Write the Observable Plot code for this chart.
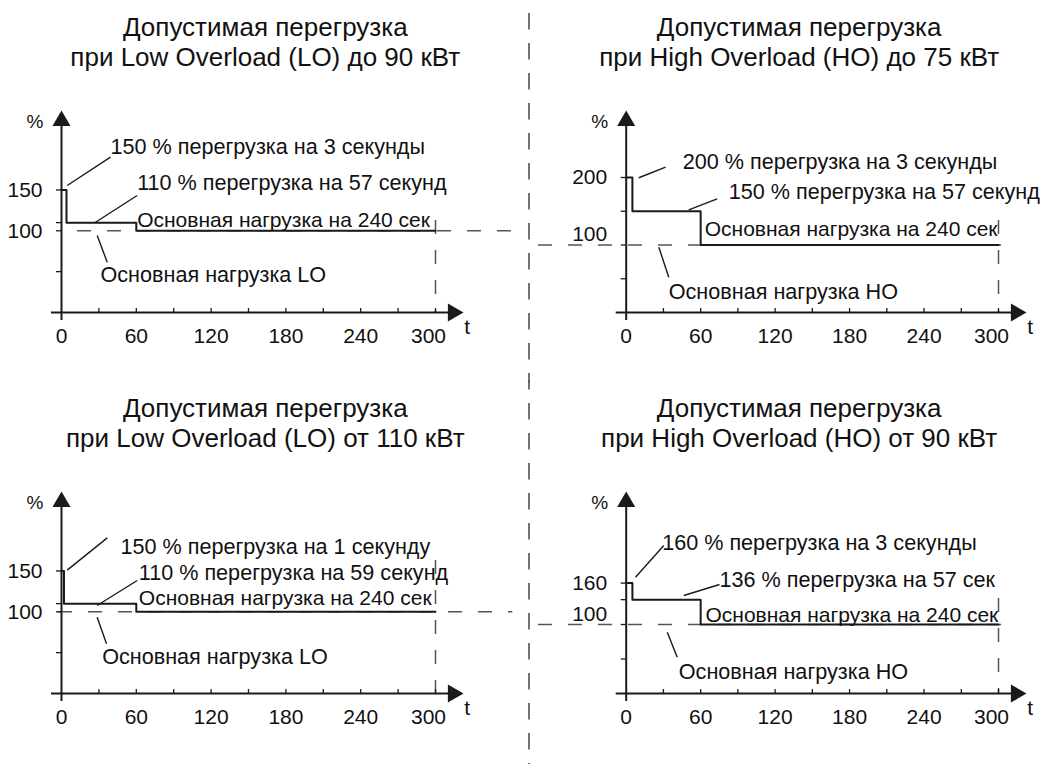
<!DOCTYPE html>
<html><head><meta charset="utf-8">
<script src="https://cdn.jsdelivr.net/npm/d3@7"></script>
<script src="https://cdn.jsdelivr.net/npm/@observablehq/plot@0.6"></script>
<style>
body{margin:0;background:#fff;}
#chart{position:relative;width:1047px;height:764px;font-family:"Liberation Sans",Arial,sans-serif;}
.panel{position:absolute;}
</style></head><body><div id="chart"></div>
<script>
// ---------- DATA ----------
const titles = [
  "Допустимая перегрузка\nпри Low Overload (LO) до 90 кВт",
  "Допустимая перегрузка\nпри High Overload (HO) до 75 кВт",
  "Допустимая перегрузка\nпри Low Overload (LO) от 110 кВт",
  "Допустимая перегрузка\nпри High Overload (HO) от 90 кВт"
];
const xTickLabels = [0, 60, 120, 180, 240, 300];
const xMinorTicks = [30, 60, 90, 120, 150, 180, 210, 240, 270, 300];

const stepTimesTL = [0, 4, 60, 300],  stepValuesTL = [150, 110, 100, 100];
const stepTimesTR = [0, 5, 60, 300],  stepValuesTR = [200, 150, 100, 100];
const stepTimesBL = [0, 2, 60, 300],  stepValuesBL = [150, 110, 100, 100];
const stepTimesBR = [0, 5, 60, 300],  stepValuesBR = [160, 136, 100, 100];

const yTicksTL = [50, 100, 110, 150], yLabelsTL = [150];
const yTicksTR = [50, 100, 150, 200], yLabelsTR = [200];
const yTicksBL = [50, 100, 110, 150], yLabelsBL = [150];
const yTicksBR = [50, 100, 136, 160], yLabelsBR = [160];
const baseLoad = 100;

const notesTL = ["150 % перегрузка на 3 секунды", "110 % перегрузка на 57 секунд", "Основная нагрузка на 240 сек", "Основная нагрузка LO"];
const notesTR = ["200 % перегрузка на 3 секунды", "150 % перегрузка на 57 секунд", "Основная нагрузка на 240 сек", "Основная нагрузка HO"];
const notesBL = ["150 % перегрузка на 1 секунду", "110 % перегрузка на 59 секунд", "Основная нагрузка на 240 сек", "Основная нагрузка LO"];
const notesBR = ["160 % перегрузка на 3 секунды", "136 % перегрузка на 57 сек", "Основная нагрузка на 240 сек", "Основная нагрузка HO"];

// note anchors [t, value]
const notePosTL = [[39.3, 203], [60.7, 158], [60.7, 112.6], [31.3, 45.3]];
const notePosTR = [[45.6, 222.7], [82.7, 178.2], [63.3, 124], [34.3, 30.1]];
const notePosBL = [[47.3, 179], [62, 147.2], [62, 117.1], [32.6, 44.4]];
const notePosBR = [[29, 217.8], [75.2, 163.8], [63.9, 113], [42.4, 30.9]];

// leader lines [t1, v1, t2, v2]
const leadersTL = [[4.6, 155.4, 39.3, 190.1], [27.3, 110.5, 60.7, 143.2], [28.6, 94.2, 36.7, 61.6]];
const leadersTR = [[10.2, 199.6, 31.7, 215.3], [50.4, 152.1, 73.3, 168.4], [26.3, 96.7, 34.3, 52.3]];
const leadersBL = [[4.6, 151, 36.7, 190.5], [28.6, 107.7, 60.7, 138.3], [28.6, 93.4, 36.1, 60.8]];
const leadersBR = [[7.5, 168.6, 30.3, 214.5], [46.4, 142, 75.2, 158], [33.1, 88.9, 41.1, 52.6]];

// dashed reference lines: base-load extent [t1, t2], top of 300 s marker (value)
const baseDashTL = [12.8, 364], endDashTopTL = 112.6;
const baseDashTR = [-70.7, 302.5], endDashTopTR = 136.3;
const baseDashBL = [-2.4, 362], endDashTopBL = 162.8;
const baseDashBR = [-70.7, 302.5], endDashTopBR = 137.7;

// ---------- LAYOUT / STYLE ----------
const INK = "#1a1a1a", DASH = "#555";
const FONT = "'Liberation Sans', Arial, sans-serif";

const panels = [
  {title: titles[0], times: stepTimesTL, values: stepValuesTL, yTicks: yTicksTL, yLabels: yLabelsTL,
   notes: notesTL, notePos: notePosTL, leaders: leadersTL, baseDash: baseDashTL, endTop: endDashTopTL,
   left: 0, top: 0, width: 520, height: 381, x0: 61, x300: 435, yRef: 150, yRefPx: 189.45,
   titleDx: 8, baseLabelDy: 0, divider: false},
  {title: titles[1], times: stepTimesTR, values: stepValuesTR, yTicks: yTicksTR, yLabels: yLabelsTR,
   notes: notesTR, notePos: notePosTR, leaders: leadersTR, baseDash: baseDashTR, endTop: endDashTopTR,
   left: 520, top: 0, width: 527, height: 381, x0: 105.7, x300: 478, yRef: 200, yRefPx: 177,
   titleDx: -22, baseLabelDy: -11, divider: true, dashOffset: 16.7},
  {title: titles[2], times: stepTimesBL, values: stepValuesBL, yTicks: yTicksBL, yLabels: yLabelsBL,
   notes: notesBL, notePos: notePosBL, leaders: leadersBL, baseDash: baseDashBL, endTop: endDashTopBL,
   left: 0, top: 381, width: 520, height: 383, x0: 61, x300: 435, yRef: 150, yRefPx: 189.45,
   titleDx: 8, baseLabelDy: 0, divider: false},
  {title: titles[3], times: stepTimesBR, values: stepValuesBR, yTicks: yTicksBR, yLabels: yLabelsBR,
   notes: notesBR, notePos: notePosBR, leaders: leadersBR, baseDash: baseDashBR, endTop: endDashTopBR,
   left: 520, top: 381, width: 527, height: 383, x0: 105.7, x300: 478, yRef: 160, yRefPx: 201.6,
   titleDx: -22, baseLabelDy: -10, divider: true, dashOffset: 7.7}
];

const AXIS_Y = 312;        // x-axis position inside each svg
const ARROW_C = 120.4;     // centre of y-axis arrow head
const ARROW_R = 6.7;

function drawPanel(p) {
  const marginLeft = p.x0;
  const marginRight = p.width - (p.x300 + 17.6);
  const marginTop = ARROW_C;
  const marginBottom = p.height - AXIS_Y;
  const frameW = p.width - marginLeft - marginRight;
  const frameH = AXIS_Y - marginTop;
  const steps = p.times.map((t, i) => ({t, v: p.values[i]}));
  const notes = p.notes.map((label, i) => ({label, i, t: p.notePos[i][0], v: p.notePos[i][1]}));
  const leaders = p.leaders.map(([t1, v1, t2, v2]) => ({t1, v1, t2, v2}));
  const dashStyle = {stroke: DASH, strokeWidth: 1.5, strokeDasharray: "14,16"};

  const marks = [
    Plot.text([p.title], {text: d => d, frameAnchor: "top", dx: p.titleDx, dy: 15 - marginTop,
      lineAnchor: "top", fontSize: 26, lineHeight: 1.13, fill: "#111"}),
  ];
  if (p.divider) {
    marks.push(Plot.frame({anchor: "left", insetLeft: -(marginLeft - 8.5), insetTop: -marginTop,
      insetBottom: -marginBottom, stroke: "#444", strokeWidth: 1.5, strokeDasharray: "15,15",
      strokeDashoffset: p.dashOffset}));
  }
  marks.push(
    Plot.ruleY([baseLoad], {x1: p.baseDash[0], x2: p.baseDash[1], ...dashStyle}),
    Plot.ruleX([300], {y1: p.endTop, y2: 0, ...dashStyle}),
    Plot.ruleX([0], {insetBottom: -8, stroke: INK, strokeWidth: 2}),
    Plot.ruleY([0], {insetLeft: -10, stroke: INK, strokeWidth: 2}),
    Plot.ruleX(xMinorTicks, {insetTop: frameH - 4, stroke: INK, strokeWidth: 1.3}),
    Plot.ruleY(p.yTicks, {insetLeft: -5, insetRight: frameW, stroke: INK, strokeWidth: 1.3}),
    Plot.dot([0], {x: 0, frameAnchor: "top", symbol: "triangle", r: ARROW_R, fill: INK, stroke: "none"}),
    Plot.dot([0], {y: 0, frameAnchor: "right", symbol: "triangle", rotate: 90, r: ARROW_R, fill: INK, stroke: "none"}),
    Plot.line(steps, {x: "t", y: "v", curve: "step-after", stroke: INK, strokeWidth: 2}),
    Plot.link(leaders, {x1: "t1", y1: "v1", x2: "t2", y2: "v2", stroke: INK, strokeWidth: 1.4}),
    Plot.text(notes.filter(d => d.i !== 2), {x: "t", y: "v", text: "label", textAnchor: "start", lineAnchor: "middle", fontSize: 21.6, fill: "#111"}),
    Plot.text(notes.filter(d => d.i === 2), {x: "t", y: "v", text: "label", textAnchor: "start", lineAnchor: "middle", fontSize: 21, fill: "#111"}),
    Plot.text(xTickLabels.filter(d => d !== 300), {x: d => d, text: d => String(d), frameAnchor: "bottom", lineAnchor: "top", dy: 16, fontSize: 21, fill: "#111"}),
    Plot.text(xTickLabels.filter(d => d === 300), {x: d => d, text: d => String(d), frameAnchor: "bottom", lineAnchor: "top", dy: 16, dx: -7, fontSize: 21, fill: "#111"}),
    Plot.text(p.yLabels, {y: d => d, text: d => String(d), frameAnchor: "left", textAnchor: "end", dx: -19, fontSize: 21, fill: "#111"}),
    Plot.text([baseLoad], {y: d => d, text: d => String(d), frameAnchor: "left", textAnchor: "end", dx: -19, dy: p.baseLabelDy, fontSize: 21, fill: "#111"}),
    Plot.text(["%"], {text: d => d, frameAnchor: "top-left", dx: -26.5, dy: -6, textAnchor: "middle", fontSize: 19, fill: "#111"}),
    Plot.text(["t"], {text: d => d, frameAnchor: "bottom-right", dx: 14, dy: 21, textAnchor: "middle", fontSize: 21, fill: "#111"})
  );

  const svg = Plot.plot({
    width: p.width, height: p.height,
    marginLeft, marginRight, marginTop, marginBottom,
    x: {domain: [0, 300], range: [p.x0, p.x300], axis: null},
    y: {domain: [0, p.yRef], range: [AXIS_Y, p.yRefPx], axis: null},
    style: {fontFamily: FONT, background: "transparent", overflow: "visible", color: INK},
    marks
  });
  const div = document.createElement("div");
  div.className = "panel";
  div.style.left = p.left + "px";
  div.style.top = p.top + "px";
  div.appendChild(svg);
  document.getElementById("chart").appendChild(div);
}
panels.forEach(drawPanel);
</script></body></html>
